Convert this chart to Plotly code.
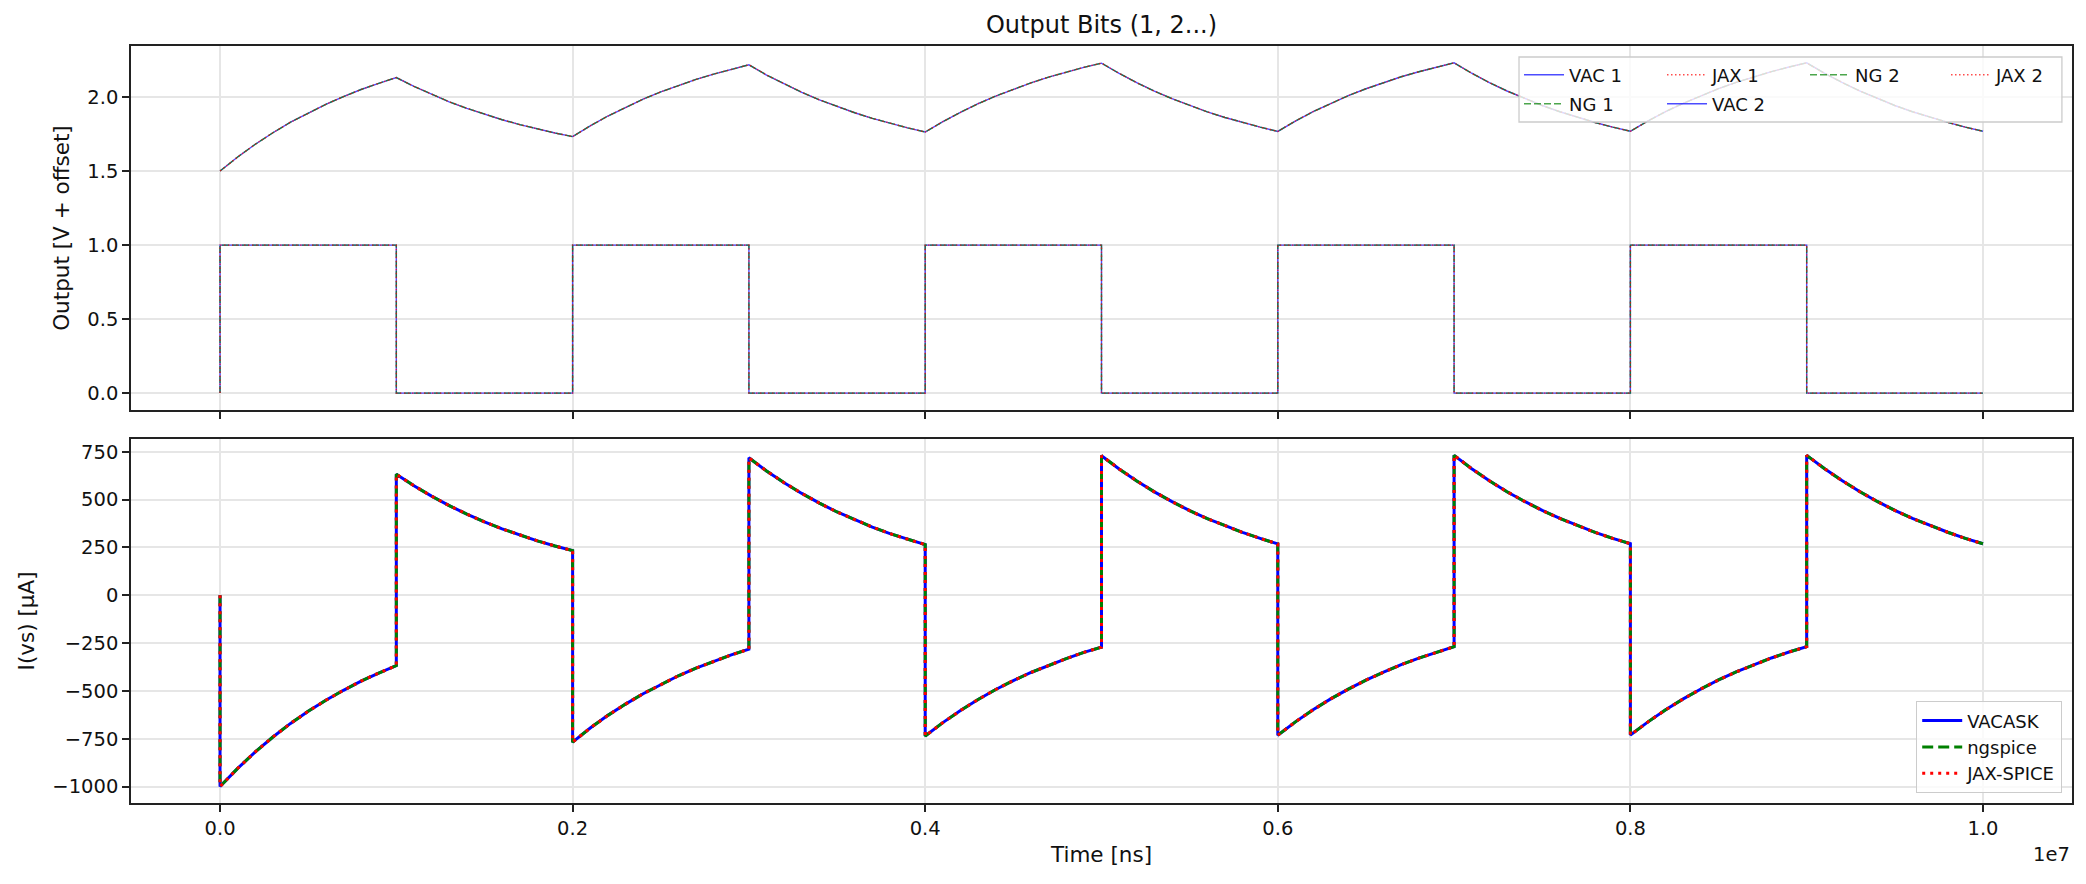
import numpy as np
import plotly.graph_objects as go
from plotly.subplots import make_subplots

# bit period (ns) and sample points inside one period (fraction of period)
BIT_NS = 1e6
N_BITS = 10
FRAC = [0.0, 0.1, 0.2, 0.3, 0.4, 0.5, 0.6, 0.7, 0.8, 0.9, 1.0]

# output bit 1 (square wave), one value per bit period
BIT1 = [1, 0, 1, 0, 1, 0, 1, 0, 1, 0]

# output bit 2 in V, read every 0.1 period from 0 to 1e7 ns (101 points)
OUT2 = [
    0.000, 0.095, 0.181, 0.259, 0.330, 0.393, 0.451, 0.503, 0.551, 0.593, 0.632,
    0.572, 0.518, 0.468, 0.424, 0.383, 0.347, 0.314, 0.284, 0.257, 0.233,
    0.306, 0.372, 0.431, 0.486, 0.535, 0.579, 0.619, 0.655, 0.688, 0.718,
    0.649, 0.588, 0.532, 0.481, 0.435, 0.394, 0.356, 0.322, 0.292, 0.264,
    0.334, 0.397, 0.455, 0.507, 0.554, 0.596, 0.635, 0.669, 0.701, 0.729,
    0.660, 0.597, 0.540, 0.489, 0.442, 0.400, 0.362, 0.328, 0.297, 0.268,
    0.338, 0.401, 0.458, 0.510, 0.556, 0.598, 0.637, 0.671, 0.703, 0.731,
    0.661, 0.598, 0.541, 0.490, 0.443, 0.401, 0.363, 0.328, 0.297, 0.269,
    0.339, 0.402, 0.458, 0.510, 0.557, 0.599, 0.637, 0.672, 0.703, 0.731,
    0.662, 0.599, 0.542, 0.490, 0.443, 0.401, 0.363, 0.329, 0.297, 0.269,
]
OFFSET2 = 1.5

# I(vs) in uA: value at t=0, then 11 samples per bit period (jumps at edges)
I_START = 0.0
I_VS = [
    -1000, -905, -819, -741, -670, -607, -549, -497, -449, -407, -368,
    632, 572, 518, 468, 424, 383, 347, 314, 284, 257, 233,
    -768, -694, -628, -569, -515, -466, -421, -381, -345, -312, -282,
    718, 649, 588, 532, 481, 435, 394, 356, 322, 292, 264,
    -736, -666, -603, -545, -493, -446, -404, -366, -331, -299, -271,
    729, 660, 597, 540, 489, 442, 400, 362, 328, 297, 268,
    -732, -662, -599, -542, -491, -444, -402, -363, -329, -298, -269,
    731, 661, 598, 541, 490, 443, 401, 363, 328, 297, 269,
    -731, -662, -599, -542, -490, -443, -401, -363, -328, -297, -269,
    731, 662, 599, 542, 490, 443, 401, 363, 329, 297, 269,
]

X_TICKS = [0, 2e6, 4e6, 6e6, 8e6, 1e7]
X_TICKTEXT = ["0.0", "0.2", "0.4", "0.6", "0.8", "1.0"]

SIMS = [("VACASK", "VAC"), ("ngspice", "NG"), ("JAX-SPICE", "JAX")]

# time axes
t_out2 = np.linspace(0, N_BITS * BIT_NS, len(OUT2))
t_bit1 = [0.0]
y_bit1 = [0]
for k, b in enumerate(BIT1):
    t_bit1 += [k * BIT_NS, (k + 1) * BIT_NS]
    y_bit1 += [b, b]
t_ivs = [0.0] + [(k + f) * BIT_NS for k in range(N_BITS) for f in FRAC]
i_vs = [I_START] + I_VS
out2 = np.array(OUT2) + OFFSET2

thin = {
    "VAC": dict(color="rgba(0,0,255,0.7)", width=1.4, dash="solid"),
    "NG": dict(color="rgba(0,128,0,0.7)", width=1.4, dash="7px,3px"),
    "JAX": dict(color="rgba(255,0,0,0.7)", width=1.4, dash="1.5px,2.5px"),
}
thick = {
    "VACASK": dict(color="#0000ff", width=3, dash="solid"),
    "ngspice": dict(color="#008000", width=3, dash="11px,5px"),
    "JAX-SPICE": dict(color="#ff0000", width=3, dash="3px,5px"),
}

# legend placement of the upper panel (matplotlib fills columns first)
row_of = {"VAC 1": "legend", "NG 1": "legend3", "JAX 1": "legend",
          "VAC 2": "legend3", "NG 2": "legend", "JAX 2": "legend4"}

fig = make_subplots(rows=2, cols=1, shared_xaxes=True, vertical_spacing=0.038)

for bit, (tx, ty) in [(1, (t_bit1, y_bit1)), (2, (t_out2, out2))]:
    for _, short in SIMS:
        name = f"{short} {bit}"
        fig.add_trace(go.Scatter(x=tx, y=ty, mode="lines", name=name,
                                 line=thin[short], legend=row_of[name]),
                      row=1, col=1)

for sim, _ in SIMS:
    fig.add_trace(go.Scatter(x=t_ivs, y=i_vs, mode="lines", name=sim,
                             line=thick[sim], legend="legend2"),
                  row=2, col=1)

font = "DejaVu Sans"
axis_common = dict(
    showline=True, linecolor="#222222", linewidth=1.6, mirror=True,
    ticks="outside", ticklen=7, tickwidth=1.6, tickcolor="#222222",
    showgrid=True, gridcolor="#e6e6e6", gridwidth=1.5, zeroline=False,
    automargin=False,
    tickfont=dict(family=font, size=19.5, color="#111111"),
)
fig.update_xaxes(**axis_common, range=[-5.05e5, 1.0505e7],
                 tickvals=X_TICKS, ticktext=X_TICKTEXT)
fig.update_xaxes(showticklabels=False, row=1, col=1)
fig.update_xaxes(title=dict(text="Time [ns]", standoff=8,
                            font=dict(family=font, size=21.5, color="#111111")),
                 row=2, col=1)
fig.update_yaxes(**axis_common)
fig.update_yaxes(range=[-0.115, 2.345], tickvals=[0, 0.5, 1.0, 1.5, 2.0],
                 ticktext=["0.0", "0.5", "1.0", "1.5", "2.0"],
                 title=dict(text="Output [V + offset]", standoff=12,
                            font=dict(family=font, size=21.5, color="#111111")),
                 row=1, col=1)
fig.update_yaxes(range=[-1086, 817], tickvals=[-1000, -750, -500, -250, 0, 250, 500, 750],
                 title=dict(text="I(vs) [µA]", standoff=12,
                            font=dict(family=font, size=21.5, color="#111111")),
                 row=2, col=1)

# the page body adds 8 px around the figure, so the figure is 16 px smaller
W, H = 2070, 868
leg_font = dict(family=font, size=18, color="#111111")
row_legend = dict(orientation="h", xanchor="left", yanchor="middle",
                  bgcolor="rgba(0,0,0,0)", borderwidth=0, font=leg_font,
                  itemwidth=40, entrywidth=88, tracegroupgap=0)
fig.update_layout(
    width=W, height=H,
    margin=dict(l=123, r=6, t=38, b=73),
    paper_bgcolor="white", plot_bgcolor="white",
    font=dict(family=font, color="#111111"),
    title=dict(text="Output Bits (1, 2...)", x=0.5, xref="paper", xanchor="center",
               y=1 - 17 / H, yanchor="middle",
               font=dict(family=font, size=24, color="#111111")),
    legend=dict(row_legend, x=0.7151, y=0.9617),
    legend4=dict(row_legend, x=0.9351, y=0.9617, entrywidth=0),
    legend3=dict(row_legend, x=0.7151, y=0.9234),
    legend2=dict(xanchor="right", x=0.9948, yanchor="bottom", y=0.0132,
                 bgcolor="rgba(255,255,255,0.8)", bordercolor="#cccccc",
                 borderwidth=1.3, font=leg_font, itemwidth=40),
    showlegend=True,
)

# frame behind the legend rows of the upper panel
fig.add_shape(type="rect", xref="paper", yref="paper",
              x0=0.7151, x1=0.9948, y0=0.8996, y1=0.9855,
              fillcolor="rgba(255,255,255,0.8)", line=dict(color="#cccccc", width=1.3),
              layer="above")

# matplotlib-style offset text for the x axis
fig.add_annotation(text="1e7", xref="x2 domain", yref="paper", x=1.0, y=-51 / 757,
                   xanchor="right", yanchor="middle", showarrow=False,
                   font=dict(family=font, size=19.5, color="#111111"))

fig.write_html("out.html")
